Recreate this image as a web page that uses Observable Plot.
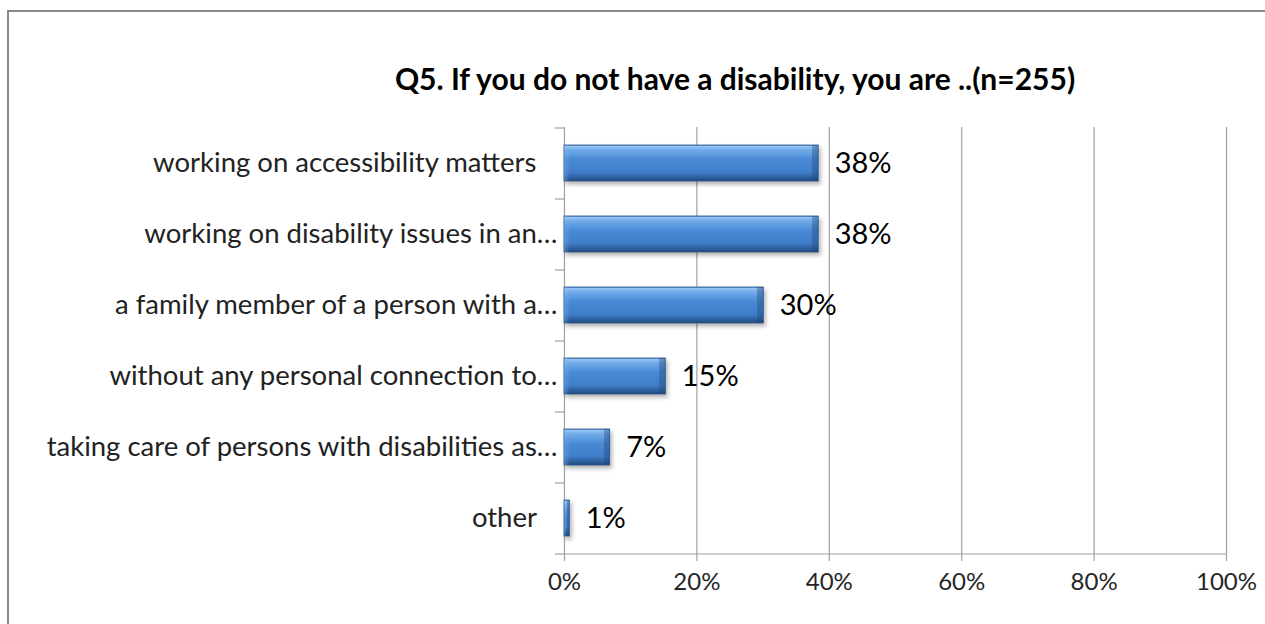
<!DOCTYPE html>
<html><head><meta charset="utf-8">
<script src="https://cdn.jsdelivr.net/npm/d3@7"></script>
<script src="https://cdn.jsdelivr.net/npm/@observablehq/plot@0.6"></script>
<style>
body{margin:0;background:#fff;width:1265px;height:624px;overflow:hidden;position:relative;font-family:Lato,sans-serif;}
#frame{position:absolute;left:7px;top:10px;width:1400px;height:800px;border-left:2px solid #8a8a8a;border-top:2px solid #8a8a8a;z-index:2;pointer-events:none}
#title{position:absolute;left:235px;width:1000px;top:60px;line-height:36px;text-align:center;font-weight:bold;font-size:30px;color:#000;font-family:Lato,sans-serif}
#chart{position:absolute;left:0;top:100px}
</style></head><body>
<div id="frame"></div>
<div id="title">Q5. If you do not have a disability, you are ..(n=255)</div>
<div id="chart"></div>
<script>
const categories = [
  "working on accessibility matters\u00a0\u00a0\u00a0",
  "working on disability issues in an…",
  "a family member of a person with a…",
  "without any personal connection to…",
  "taking care of persons with disabilities as…",
  "other\u00a0\u00a0\u00a0"
];
const values = [38.4, 38.4, 30.1, 15.3, 6.9, 0.8];
const valueLabels = ["38%", "38%", "30%", "15%", "7%", "1%"];
const xTicks = [0, 20, 40, 60, 80, 100];

const data = categories.map((c, i) => ({category: c, value: values[i], label: valueLabels[i]}));

const W = 1265, H = 524, mL = 564, mR = 39, mT = 27, mB = 71;
const step = (H - mT - mB) / categories.length;
const grid = "#a0a0a0";

const plot = Plot.plot({
  width: W, height: H,
  marginLeft: mL, marginRight: mR, marginTop: mT, marginBottom: mB,
  style: {background: "transparent", fontFamily: "Lato, sans-serif", overflow: "visible"},
  x: {domain: [0, 100], label: null},
  y: {domain: categories, paddingInner: 0.5, paddingOuter: 0.25, label: null},
  marks: [
    Plot.gridX(xTicks.slice(1), {stroke: grid, strokeOpacity: 1, strokeWidth: 1.2}),
    Plot.ruleX([0], {stroke: grid, strokeWidth: 1.2}),
    Plot.ruleY([categories[categories.length - 1]], {dy: step / 2, stroke: grid, strokeWidth: 1.2}),
    Plot.axisY({tickSize: 9, dy: -step / 2, tickFormat: () => "", stroke: grid, strokeWidth: 1.2, label: null}),
    Plot.axisY([categories[categories.length - 1]], {tickSize: 9, dy: step / 2, tickFormat: () => "", stroke: grid, strokeWidth: 1.2, label: null}),
    Plot.axisY({tickSize: 0, tickPadding: 7, fontSize: 27.5, fill: "#222", label: null}),
    Plot.axisX({ticks: xTicks, tickSize: 8, tickPadding: 11, tickFormat: d => d + "%", fontSize: 24, fill: "#262626", stroke: grid, strokeWidth: 1.2, label: null}),
    Plot.barX(data, {x: "value", y: "category", fill: "url(#barGrad)", stroke: "#2a5790", strokeWidth: 0.8}),
    Plot.text(data, {x: "value", y: "category", text: "label", dx: 16, textAnchor: "start", fontSize: 29, fill: "#000"})
  ]
});

const svg = d3.select(plot);
const defs = svg.insert("defs", ":first-child");
const g = defs.append("linearGradient").attr("id", "barGrad").attr("x1", 0).attr("y1", 0).attr("x2", 0).attr("y2", 1);
[["0%", "#4a7fbf"], ["4%", "#94c4f2"], ["14%", "#70aae9"], ["40%", "#4a8ad5"], ["76%", "#3f7dc8"], ["90%", "#2d609f"], ["100%", "#22497c"]]
  .forEach(([o, c]) => g.append("stop").attr("offset", o).attr("stop-color", c));

// bevelled ends: a horizontal shading overlay per bar
const barG = svg.select("g[aria-label=bar]");
barG.style("filter", "drop-shadow(2px 3px 2px rgba(0,0,0,0.3))");
barG.selectAll("rect").each(function(d, i) {
  const r = d3.select(this);
  const w = +r.attr("width");
  if (!(w > 0)) return;
  const e = Math.min(0.45, 6 / w);
  const id = "bevel" + i;
  const lg = defs.append("linearGradient").attr("id", id).attr("x1", 0).attr("y1", 0).attr("x2", 1).attr("y2", 0);
  [[0, "#8fbfef", 0.35], [e, "#8fbfef", 0], [1 - e, "#1e4578", 0], [1 - e + 0.0001, "#1e4578", 0.35], [1, "#1e4578", 0.45]]
    .forEach(([o, c, a]) => lg.append("stop").attr("offset", o).attr("stop-color", c).attr("stop-opacity", a));
  barG.append("rect")
    .attr("x", r.attr("x")).attr("y", r.attr("y"))
    .attr("width", w).attr("height", r.attr("height"))
    .attr("fill", `url(#${id})`).attr("stroke", "none");
});

document.getElementById("chart").appendChild(plot);
</script>
</body></html>
